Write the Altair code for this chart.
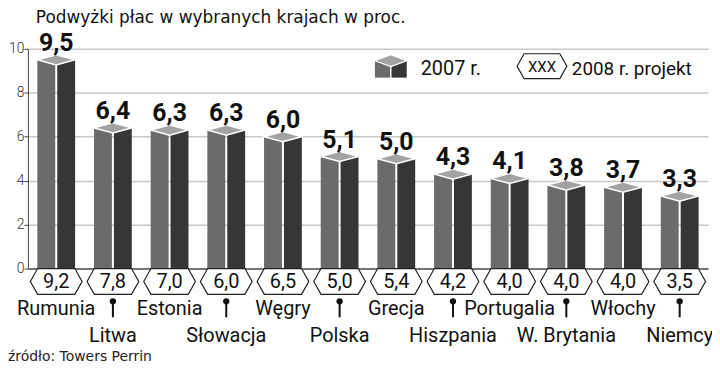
import altair as alt
import pandas as pd

countries = ["Rumunia", "Litwa", "Estonia", "Słowacja", "Węgry", "Polska",
             "Grecja", "Hiszpania", "Portugalia", "W. Brytania", "Włochy", "Niemcy"]
v2007 = [9.5, 6.4, 6.3, 6.3, 6.0, 5.1, 5.0, 4.3, 4.1, 3.8, 3.7, 3.3]
v2008 = [9.2, 7.8, 7.0, 6.0, 6.5, 5.0, 5.4, 4.2, 4.0, 4.0, 4.0, 3.5]
y_ticks = [0, 2, 4, 6, 8, 10]
title_text = "Podwyżki płac w wybranych krajach w proc."
source_text = "źródło: Towers Perrin"
legend_2007 = "2007 r."
legend_2008 = "2008 r. projekt"
legend_mark = "XXX"


def pl(v):
    return f"{v:.1f}".replace(".", ",")


df = pd.DataFrame({
    "country": countries,
    "v2007": v2007,
    "v2008": v2008,
    "lab2007": [pl(v) for v in v2007],
    "lab2008": [pl(v) for v in v2008],
    "row": [i % 2 for i in range(len(countries))],
})

FONT = "Roboto"
WIDE = "DejaVu Sans"
LEFT_C = "#6b6b6b"
RIGHT_C = "#363636"
TOP_C = "#a3a3a3"
DIAMOND = "M -1 0 L 0 -0.27 L 1 0 L 0 0.27 Z"
DIAMOND_LEG = "M -1 0 L 0 -0.375 L 1 0 L 0 0.375 Z"
HEX = "M -1 0 L -0.72 -0.5 L 0.72 -0.5 L 1 0 L 0.72 0.5 L -0.72 0.5 Z"

x = alt.X("country:N", sort=countries,
          scale=alt.Scale(paddingInner=0, paddingOuter=0),
          axis=alt.Axis(title=None, labels=False, ticks=False, domain=True,
                        domainColor="#555", domainWidth=1.5, grid=False))
y = alt.Y("v2007:Q", scale=alt.Scale(domain=[0, 10], nice=False),
          axis=alt.Axis(values=y_ticks, title=None, grid=True, gridColor="#c8c8c8",
                        gridWidth=1.5, tickSize=4, tickColor="#444", domainColor="#444",
                        labelFont=FONT, labelFontSize=14, labelColor="#333",
                        labelPadding=0, labelFontWeight=300))

base = alt.Chart(df)

left = base.mark_bar(size=18, xOffset=-10, color=LEFT_C).encode(x=x, y=y)
right = base.mark_bar(size=18, xOffset=10, color=RIGHT_C).encode(x=x, y=y)
top = base.mark_point(shape=DIAMOND, size=1444, filled=True, color=TOP_C, stroke="white",
                      strokeWidth=1.5, opacity=1).encode(x=x, y=y)
vals = base.mark_text(font=FONT, fontSize=25, fontWeight="bold", dy=-9,
                      baseline="alphabetic", color="#111").encode(x=x, y=y, text="lab2007:N")

hexes = base.mark_point(shape=HEX, size=2704, filled=True, color="white", stroke="#222",
                        strokeWidth=1.2, opacity=1).encode(x=x, y=alt.value(234))
hex_txt = base.mark_text(font=FONT, fontSize=20, baseline="middle", color="#111").encode(
    x=x, y=alt.value(235), text="lab2008:N")

row0 = base.transform_filter("datum.row == 0").mark_text(
    font=FONT, fontSize=20, baseline="alphabetic", color="#111").encode(
    x=x, y=alt.value(268), text="country:N")
row1 = base.transform_filter("datum.row == 1").mark_text(
    font=FONT, fontSize=20, baseline="alphabetic", color="#111").encode(
    x=x, y=alt.value(295), text="country:N")
pin_line = base.transform_filter("datum.row == 1").mark_rule(color="#111", strokeWidth=2).encode(
    x=x, y=alt.value(254), y2=alt.value(270))
pin_dot = base.transform_filter("datum.row == 1").mark_point(
    shape="circle", filled=True, size=40, color="#111", opacity=1).encode(x=x, y=alt.value(254))

one = alt.Chart(pd.DataFrame({"title": [title_text], "source": [source_text],
                              "l1": [legend_2007], "l2": [legend_2008], "lm": [legend_mark]}))

title = one.mark_text(font=WIDE, fontSize=17, align="left", baseline="alphabetic",
                      color="#111").encode(x=alt.value(8), y=alt.value(-26), text="title:N")
source = one.mark_text(font=WIDE, fontSize=14, align="left",
                       baseline="alphabetic", color="#222").encode(
    x=alt.value(-20), y=alt.value(314), text="source:N")

leg_left = one.mark_rect(color=LEFT_C).encode(
    x=alt.value(349), x2=alt.value(364.3), y=alt.value(12), y2=alt.value(29))
leg_right = one.mark_rect(color=RIGHT_C).encode(
    x=alt.value(365.7), x2=alt.value(381), y=alt.value(12), y2=alt.value(29))
leg_top = one.mark_point(shape=DIAMOND_LEG, size=1024, filled=True, color=TOP_C, stroke="white",
                         strokeWidth=1.2, opacity=1).encode(x=alt.value(365), y=alt.value(12))
leg_t1 = one.mark_text(font=FONT, fontSize=20, align="left", baseline="middle",
                       color="#111").encode(x=alt.value(395), y=alt.value(20), text="l1:N")
leg_hex = one.mark_point(shape=HEX, size=2500, filled=True, color="white", stroke="#222",
                         strokeWidth=1.2, opacity=1).encode(x=alt.value(517), y=alt.value(17.5))
leg_xxx = one.mark_text(font=FONT, fontSize=15, baseline="middle", color="#111").encode(
    x=alt.value(517), y=alt.value(18), text="lm:N")
leg_t2 = one.mark_text(font=FONT, fontSize=19, align="left", baseline="middle",
                       color="#111").encode(x=alt.value(547), y=alt.value(20), text="l2:N")

chart = alt.layer(
    left, right, top, vals, hexes, hex_txt, row0, row1, pin_line, pin_dot,
    title, source, leg_left, leg_right, leg_top, leg_t1, leg_hex, leg_xxx, leg_t2
).properties(
    width=684, height=221,
    autosize=alt.AutoSizeParams(type="none"),
    padding={"left": 20, "top": 40, "right": 4, "bottom": 96},
    background="white",
).configure_view(stroke=None)

chart.save("out.html", embed_options={"renderer": "svg", "actions": False})
